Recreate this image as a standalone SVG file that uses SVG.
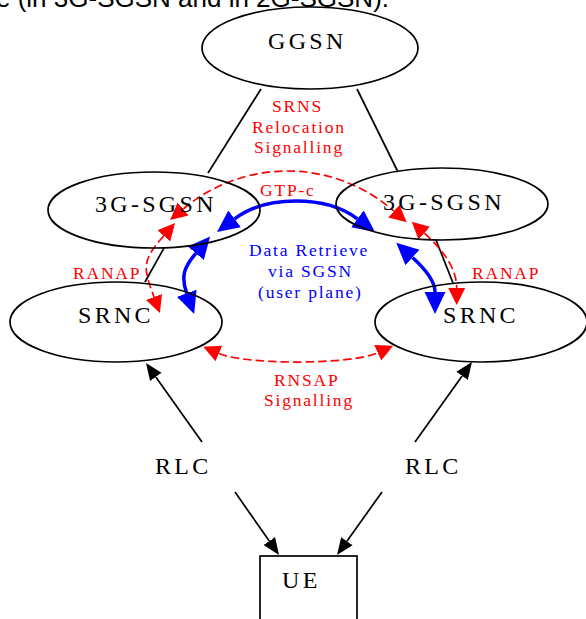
<svg xmlns="http://www.w3.org/2000/svg" width="586" height="619" viewBox="0 0 586 619">
<style>
.node{fill:none;stroke:#000;stroke-width:1.7}
.lbl{font-family:"Liberation Serif","Times New Roman",serif;font-size:24px;letter-spacing:3.3px;fill:#000}
.red{font-family:"Liberation Serif","Times New Roman",serif;font-size:17.5px;letter-spacing:1.8px;fill:#ff0000}
.blue{font-family:"Liberation Serif","Times New Roman",serif;font-size:17.5px;letter-spacing:1.8px;fill:#0000ff}
.edge{fill:none;stroke:#000;stroke-width:1.7}
.redge{fill:none;stroke:#ff0000;stroke-width:1.7;stroke-dasharray:8.5,4}
.bedge{fill:none;stroke:#0000ff;stroke-width:3.5}
.top{font-family:"Liberation Sans",Arial,sans-serif;font-size:26px;fill:#000}
</style>
<defs>
<marker id="ak" markerUnits="userSpaceOnUse" markerWidth="20" markerHeight="20" viewBox="0 -10 20 20" refX="0" refY="0" orient="auto-start-reverse"><path d="M0,-7 L17,0 L0,7 z" fill="#000"/></marker>
<marker id="ar" markerUnits="userSpaceOnUse" markerWidth="20" markerHeight="20" viewBox="0 -10 20 20" refX="0" refY="0" orient="auto-start-reverse"><path d="M0,-8.5 L17,0 L0,8.5 z" fill="#ff0000"/></marker>
<marker id="ab" markerUnits="userSpaceOnUse" markerWidth="26" markerHeight="26" viewBox="0 -13 26 26" refX="0" refY="0" orient="auto-start-reverse"><path d="M0,-10.5 L22,0 L0,10.5 z" fill="#0000ff"/></marker>
</defs>
<text class="top" x="-4" y="7">e (in 3G-SGSN and in 2G-SGSN).</text>
<g id="connectors">
<path class="edge" d="M261,89 L208,173"/>
<path class="edge" d="M357,89 L398,172"/>
<path class="edge" d="M164,248 L145,282"/>
<path class="edge" d="M436,240 L453,283"/>
<path class="edge" d="M202,442 L155.8,376.9" marker-end="url(#ak)"/>
<path class="edge" d="M415,442 L462.1,375.9" marker-end="url(#ak)"/>
<path class="edge" d="M235,492 L269.3,541.1" marker-end="url(#ak)"/>
<path class="edge" d="M382,492 L346.9,541.2" marker-end="url(#ak)"/>
<path class="redge" d="M183.1,209.1 C244,158 333,158 393.9,211.1" marker-start="url(#ar)" marker-end="url(#ar)"/>
<path class="redge" d="M163.8,235.8 C142.2,260.3 142.6,266.3 154,297" marker-start="url(#ar)" marker-end="url(#ar)"/>
<path class="redge" d="M424.3,233.1 C442.8,249.9 456.7,268 456.7,288" marker-start="url(#ar)" marker-end="url(#ar)"/>
<path class="redge" d="M218.9,353.5 C245.6,365 351,365 377.7,352.8" marker-start="url(#ar)" marker-end="url(#ar)"/>
<path class="bedge" d="M234.6,218.8 C266.2,195.1 325.8,195.1 357.4,218.8" marker-start="url(#ab)" marker-end="url(#ab)"/>
<path class="bedge" d="M195.8,253.3 C184.1,267 180.6,276.4 186.7,293.3" marker-start="url(#ab)" marker-end="url(#ab)"/>
<path class="bedge" d="M412.5,257.5 C423.6,267.6 435,280 435,292" marker-start="url(#ab)" marker-end="url(#ab)"/>
<text class="red" x="272" y="112">SRNS</text>
<text class="red" x="252" y="133">Relocation</text>
<text class="red" x="254" y="153">Signalling</text>
<text class="red" x="260" y="196">GTP-c</text>
<text class="red" x="73" y="279">RANAP</text>
<text class="red" x="472" y="279">RANAP</text>
<text class="red" x="274" y="386">RNSAP</text>
<text class="red" x="264" y="406">Signalling</text>
<text class="blue" x="249" y="256">Data Retrieve</text>
<text class="blue" x="268" y="277">via SGSN</text>
<text class="blue" x="258" y="298">(user plane)</text>
</g>
<g id="GGSN"><ellipse class="node" cx="310" cy="48" rx="108" ry="41"/><text class="lbl" x="268" y="49">GGSN</text></g>
<g id="SGSN_L"><ellipse class="node" cx="154" cy="210" rx="106" ry="38"/><text class="lbl" x="95" y="212">3G-SGSN</text></g>
<g id="SGSN_R"><ellipse class="node" cx="442" cy="204" rx="106" ry="36"/><text class="lbl" x="383" y="210">3G-SGSN</text></g>
<g id="SRNC_L"><ellipse class="node" cx="116" cy="322" rx="106" ry="40"/><text class="lbl" x="78" y="323">SRNC</text></g>
<g id="SRNC_R"><ellipse class="node" cx="481" cy="322" rx="106" ry="40"/><text class="lbl" x="443" y="323">SRNC</text></g>
<g id="RLC_L"><text class="lbl" x="155" y="474">RLC</text></g>
<g id="RLC_R"><text class="lbl" x="405" y="474">RLC</text></g>
<g id="UE"><rect class="node" x="260" y="556" width="97" height="80"/><text class="lbl" x="282" y="588">UE</text></g>
</svg>
